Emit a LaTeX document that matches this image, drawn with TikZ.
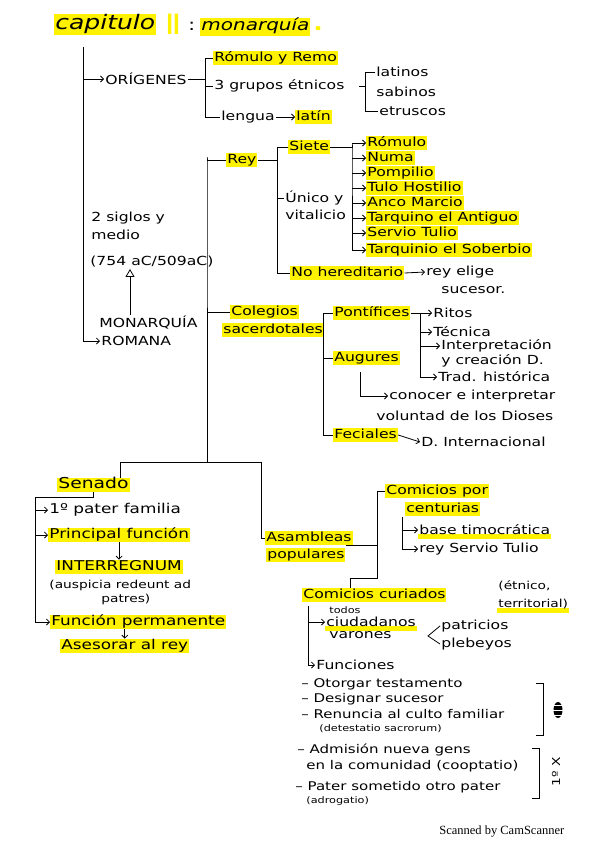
\documentclass[tikz,border=0pt]{standalone}
\usepackage{fontspec}
\setmainfont{DejaVu Sans}[FakeStretch=1.25]
\newfontfamily\estrecha{DejaVu Sans}[FakeStretch=0.65]
\newfontfamily\sellofont{Liberation Serif}
\usetikzlibrary{arrows.meta, positioning, calc, backgrounds}
\definecolor{marcador}{RGB}{255,242,0}
\tikzset{
  txt/.style={anchor=west, inner sep=1pt, font=\fontsize{12.5}{14}\selectfont},
  hl/.style={txt, fill=marcador, text height=9.5pt, text depth=2.5pt},
  grande/.style={font=\fontsize{13.5}{15}\selectfont},
  peq/.style={font=\fontsize{11}{12}\selectfont},
  mini/.style={font=\fontsize{9}{10}\selectfont},
  subrayado/.style={draw=marcador, line width=5pt},
}
\begin{document}
\begin{tikzpicture}[x=1pt, y=-1pt, >={Straight Barb[length=3pt,width=6pt]}, line width=0.8pt]
    \useasboundingbox (0,0) rectangle (599,848);
    % titulo
    \node[txt, fill=marcador, font=\itshape\fontsize{20}{20}\selectfont, text height=14pt, text depth=5pt] (titulo) at (54,25) {capitulo};
    \node[txt, font=\estrecha\bfseries\fontsize{28}{28}\selectfont, text=marcador] (romano) at (165,24) {II};
    \node[txt, font=\fontsize{16}{16}\selectfont] (dospuntos) at (187,26) {:};
    \node[txt, fill=marcador, font=\itshape\fontsize{16}{16}\selectfont, text height=12pt, text depth=4pt] (monarq) at (200,27) {monarquía};
    \node[txt, font=\bfseries\fontsize{20}{20}\selectfont, text=marcador] (punto) at (312,29) {.};

    % origenes
    \coordinate (tronco) at (83,47);
    \coordinate (b1) at (205,58);
    \coordinate (b2) at (365,72);
    \node[txt] (origenes) at (104,79) {ORÍGENES};
    \node[hl] (romulo) at (213,58) {Rómulo y Remo};
    \node[txt] (grupos) at (213,86) {3 grupos étnicos};
    \node[txt] (lengua) at (220,117) {lengua};
    \node[hl] (latin) at (295,117) {latín};
    \node[txt] (latinos) at (375,72) {latinos};
    \node[txt] (sabinos) at (375,92) {sabinos};
    \node[txt] (etruscos) at (378,111) {etruscos};
    \draw[->] (tronco |- origenes.west) -- (origenes.west);
    \draw (origenes.east) -- (b1 |- origenes.east);
    \draw (romulo.west) -| (b1 |- lengua.west) -- (lengua.west);
    \draw (grupos.west) -- (b1 |- grupos.west);
    \draw[->] (lengua) -- (latin);
    \draw (latinos.west) -| (b2 |- etruscos.west) -- (etruscos.west);
    \draw (b2 |- grupos.east) -- ++(-6,0);

    % monarquia romana
    \coordinate (flecha) at (130,0);
    \node[txt] (siglos) at (90,218) {2 siglos y};
    \node[txt] (medio) at (90,235) {medio};
    \node[txt] (fecha) at (89,262) {(754 aC/509aC)};
    \node[txt] (monarquia) at (98,323) {MONARQUÍA};
    \node[txt] (romana) at (100,341) {ROMANA};
    \draw[->] (tronco) |- (romana.west);
    \draw[-{Triangle[open,length=8pt,width=9pt]}] (flecha |- monarquia.north) -- (flecha |- fecha.south);

    % rey
    \coordinate (espina) at (207,157);
    \coordinate (brey) at (277,147);
    \coordinate (breyes) at (352,143);
    \node[hl] (rey) at (226,160) {Rey};
    \node[hl] (siete) at (288,147) {Siete};
    \node[txt] (unico) at (284,198) {Único y};
    \node[txt] (vitalicio) at (284,215) {vitalicio};
    \node[hl] (noher) at (290,273) {No hereditario};
    \node[txt] (elige) at (425,272) {rey elige};
    \node[txt] (sucesor) at (440,290) {sucesor.};
    \draw (rey.west) -| (espina) -- (207,462);
    \draw (rey.east) -- (brey |- rey.east);
    \draw (siete.west) -| (brey |- noher.west) -- (noher.west);
    \draw (unico.west) -- (brey |- unico.west);
    \draw[->] (noher.east) -- (elige.west);
    \foreach \nombre/\y/\texto in {r1/143/Rómulo, r2/158/Numa, r3/173/Pompilio,
        r4/188/Tulo Hostilio, r5/203/Anco Marcio, r6/218/Tarquino el Antiguo,
        r7/233/Servio Tulio, r8/250/Tarquinio el Soberbio}{
        \node[hl] (\nombre) at (366,\y) {\texto};
        \draw[->] (breyes |- \nombre.west) -- (\nombre.west);
    }
    \draw (siete.east) -| (breyes) -- (breyes |- r8.west);

    % colegios sacerdotales
    \coordinate (bcol) at (323,308);
    \coordinate (bpon) at (420,313);
    \coordinate (baug) at (360,372);
    \node[hl] (colegios) at (230,312) {Colegios};
    \node[hl] (sacerdotales) at (222,330) {sacerdotales};
    \node[hl] (pontifices) at (333,313) {Pontífices};
    \node[hl] (augures) at (333,358) {Augures};
    \node[hl] (feciales) at (333,435) {Feciales};
    \node[txt] (ritos) at (432,313) {Ritos};
    \node[txt] (tecnica) at (432,332) {Técnica};
    \node[txt] (interp) at (440,346) {Interpretación};
    \node[txt] (creacion) at (440,361) {y creación D.};
    \node[txt] (trad) at (437,377) {Trad. histórica};
    \node[txt] (conocer) at (388,396) {conocer e interpretar};
    \node[txt] (voluntad) at (375,416) {voluntad de los Dioses};
    \node[txt] (dint) at (420,442) {D. Internacional};
    \draw (espina |- colegios.west) -- (colegios.west);
    \draw (pontifices.west) -| (bcol |- feciales.west) -- (feciales.west);
    \draw (augures.west) -- (bcol |- augures.west);
    \draw (sacerdotales.east) -- (bcol |- sacerdotales.east);
    \draw (pontifices.east) -- (bpon) -- (bpon |- trad.west);
    \foreach \n in {ritos, tecnica, interp, trad}
        \draw[->] (bpon |- \n.west) -- (\n.west);
    \draw[->] (baug) |- (conocer.west);
    \draw[->] (feciales.east) -- (dint.west);

    % senado
    \coordinate (bsen) at (120,462);
    \coordinate (basam) at (261,462);
    \coordinate (bsenado) at (35,497);
    \node[hl, font=\fontsize{15}{16}\selectfont] (senado) at (57,485) {Senado};
    \node[txt, grande] (pater) at (48,510) {1º pater familia};
    \node[hl, grande] (principal) at (48,535) {Principal función};
    \node[hl, grande] (interreg) at (55,567) {INTERREGNUM};
    \node[txt, peq] (auspicia) at (48,585) {(auspicia redeunt ad};
    \node[txt, peq] (patres) at (100,599) {patres)};
    \node[hl, grande] (funcperm) at (50,622) {Función permanente};
    \node[hl, grande] (asesorar) at (60,646) {Asesorar al rey};
    \draw (senado.south) |- (bsenado) -- (bsenado |- funcperm.west);
    \foreach \n in {pater, principal, funcperm}
        \draw[->] (bsenado |- \n.west) -- (\n.west);
    \draw[->] (principal.south -| interreg.north) -- (interreg.north);
    \draw[->] (funcperm.south -| asesorar.north) -- (asesorar.north);

    % asambleas populares
    \coordinate (basa) at (377,493);
    \coordinate (bcur) at (377,578);
    \coordinate (bcen) at (402,517);
    \node[hl] (asambleas) at (265,538) {Asambleas};
    \node[hl] (populares) at (266,555) {populares};
    \node[hl] (centurias1) at (385,491) {Comicios por};
    \node[hl] (centurias2) at (405,509) {centurias};
    \node[txt] (base) at (418,530) {base timocrática};
    \node[txt] (reysv) at (418,549) {rey Servio Tulio};
    \node[hl] (curiados) at (302,595) {Comicios curiados};
    \draw (senado.north -| bsen) |- (basam) |- (asambleas.west);
    \draw (asambleas.south east -| populares.east) -- (basa |- asambleas.south east);
    \draw (centurias1.west) -| (bcur) -| ([xshift=48pt]curiados.north west);
    \draw[->] (bcen) |- (base.west);
    \draw[->] (bcen) |- (reysv.west);

    % comicios curiados
    \coordinate (bcu) at (308,606);
    \coordinate (menor) at (428,636);
    \node[txt, peq] (etnico) at (497,586) {(étnico,};
    \node[txt, peq] (territorial) at (497,604) {territorial)};
    \node[txt, mini] (todos) at (328,610) {todos};
    \node[txt] (ciudadanos) at (325,622) {ciudadanos};
    \node[txt] (varones) at (328,635) {varones};
    \node[txt] (patricios) at (440,626) {patricios};
    \node[txt] (plebeyos) at (440,644) {plebeyos};
    \node[txt] (funciones) at (315,665) {Funciones};
    \draw[->] (bcu) |- (funciones.west);
    \draw[->] (bcu |- ciudadanos.west) -- (ciudadanos.west);
    \draw (patricios.west) -- (menor) -- (plebeyos.west);

    % funciones
    \foreach \n/\x/\y/\t in {f1/300/684/– Otorgar testamento, f2/300/699/– Designar sucesor,
        f3/300/714/– Renuncia al culto familiar, f5/296/750/– Admisión nueva gens,
        f6/305/766/en la comunidad (cooptatio), f7/294/787/– Pater sometido otro pater}
        \node[txt, font=\fontsize{12}{13}\selectfont] (\n) at (\x,\y) {\t};
    \node[txt, mini] (f4) at (318,729) {(detestatio sacrorum)};
    \node[txt, mini] (f8) at (305,801) {(adrogatio)};
    \coordinate (c1) at (543,683);
    \coordinate (c2) at (543,735);
    \coordinate (c3) at (539,748);
    \coordinate (c4) at (539,798);
    \draw (c1) ++(-7,0) -- (c1) -- (c2) -- ++(-7,0);
    \draw (c3) ++(-7,0) -- (c3) -- (c4) -- ++(-7,0);
    \fill (558,710) ellipse (4.5 and 8);
    \draw[white, line width=0.6pt] (554,705) -- (562,705) (553,710) -- (563,710) (554,715) -- (562,715);
    \node[txt, peq, rotate=90, anchor=center] (primero) at (556,772) {1º X};

    \node[anchor=east, font=\sellofont\fontsize{12.5}{13}\selectfont] (sello) at (568,832) {Scanned by CamScanner};

    \begin{scope}[on background layer]
        \fill[white] (0,0) rectangle (599,848);
        \draw[subrayado] (base.south west) -- (base.south east);
        \draw[subrayado] (territorial.south west) -- (territorial.south east);
        \draw[subrayado] (ciudadanos.south west) -- (ciudadanos.south east);
    \end{scope}
\end{tikzpicture}
\end{document}
